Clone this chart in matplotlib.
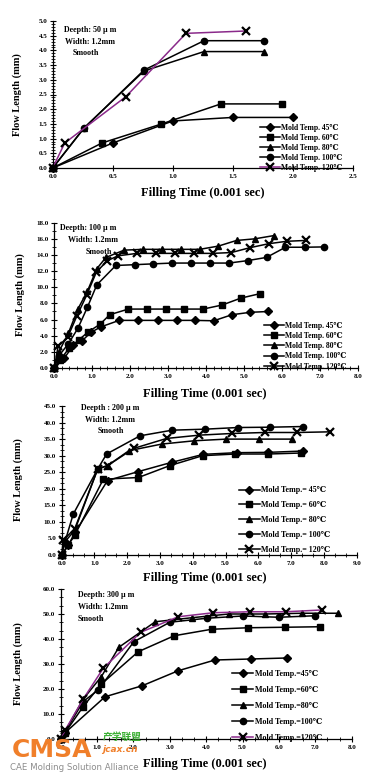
import matplotlib
matplotlib.use('Agg')
import matplotlib.pyplot as plt
from matplotlib.ticker import MultipleLocator, FormatStrFormatter

plt.rcParams['font.family'] = ['Liberation Serif', 'DejaVu Serif']
plt.rcParams['font.weight'] = 'bold'

W, H = 382, 778
PURPLE = '#8a2a8a'

# ---- panel 1 : 50 um ----
p1_x45 = [0, 0.5, 1.0, 1.5, 2.0]
p1_y45 = [0, 0.85, 1.6, 1.72, 1.72]
p1_x60 = [0, 0.41, 0.9, 1.4, 1.91]
p1_y60 = [0, 0.85, 1.49, 2.18, 2.18]
p1_x80 = [0, 0.26, 0.76, 1.26, 1.76]
p1_y80 = [0, 1.36, 3.3, 3.96, 3.96]
p1_x100 = [0, 0.26, 0.76, 1.26, 1.76]
p1_y100 = [0, 1.35, 3.33, 4.33, 4.33]
p1_x120 = [0, 0.1, 0.61, 1.11, 1.61]
p1_y120 = [0, 0.85, 2.43, 4.58, 4.66]

# ---- panel 2 : 100 um ----
p2_x45 = [0, 0.26, 0.5, 0.74, 0.96, 1.23, 1.71, 2.21, 2.72, 3.22, 3.7, 4.2, 4.68, 5.16, 5.64]
p2_y45 = [0, 1.2, 2.8, 3.4, 4.4, 5.1, 5.9, 5.9, 5.9, 5.9, 5.9, 5.85, 6.6, 6.9, 7.0]
p2_x60 = [0, 0.15, 0.4, 0.65, 0.9, 1.2, 1.46, 1.95, 2.43, 2.93, 3.42, 3.92, 4.42, 4.91, 5.41]
p2_y60 = [0, 1.0, 2.5, 3.5, 4.5, 5.4, 6.6, 7.3, 7.3, 7.3, 7.3, 7.3, 7.8, 8.65, 9.2]
p2_x80 = [0, 0.12, 0.37, 0.62, 0.87, 1.12, 1.36, 1.84, 2.34, 2.84, 3.33, 3.83, 4.32, 4.8, 5.28, 5.78]
p2_y80 = [0, 2.0, 4.3, 7.3, 9.5, 12.3, 13.7, 14.6, 14.7, 14.7, 14.7, 14.7, 15.1, 15.8, 16.0, 16.4]
p2_x100 = [0, 0.12, 0.37, 0.62, 0.87, 1.12, 1.62, 2.12, 2.6, 3.11, 3.61, 4.1, 4.6, 5.09, 5.59, 6.09, 6.6, 7.1]
p2_y100 = [0, 1.5, 3.0, 4.9, 7.5, 10.3, 12.7, 12.8, 12.9, 13.0, 13.0, 13.0, 13.0, 13.3, 13.7, 14.96, 14.96, 15.0]
p2_x120 = [0, 0.1, 0.35, 0.6, 0.85, 1.11, 1.4, 1.68, 2.18, 2.68, 3.18, 3.68, 4.17, 4.66, 5.15, 5.65, 6.13, 6.62]
p2_y120 = [0, 2.7, 3.8, 6.5, 9.0, 11.9, 13.3, 13.9, 14.2, 14.2, 14.2, 14.2, 14.2, 14.3, 14.9, 15.4, 15.7, 15.8]

# ---- panel 3 : 200 um ----
p3_x45 = [0, 0.2, 0.42, 1.4, 2.34, 3.36, 4.32, 5.34, 6.3, 7.35]
p3_y45 = [0, 3.0, 7.0, 22.5, 25.2, 28.0, 30.4, 30.9, 31.0, 31.4]
p3_x60 = [0, 0.2, 0.4, 1.27, 2.34, 3.3, 4.3, 5.3, 6.3, 7.3]
p3_y60 = [0, 3.0, 6.0, 22.9, 23.4, 27.0, 30.0, 30.5, 30.5, 30.8]
p3_x80 = [0, 0.1, 0.4, 1.1, 1.4, 2.05, 3.05, 4.05, 5.02, 6.02, 7.02]
p3_y80 = [0, 4.0, 7.5, 26.0, 27.0, 31.5, 33.5, 34.5, 35.0, 35.0, 35.0]
p3_x100 = [0, 0.1, 0.35, 1.1, 1.37, 2.39, 3.37, 4.37, 5.37, 6.36, 7.36]
p3_y100 = [0, 4.0, 12.3, 26.0, 30.5, 36.0, 37.7, 38.0, 38.5, 38.6, 38.8]
p3_x120 = [0, 0.05, 0.4, 1.1, 1.4, 2.2, 3.2, 4.2, 5.19, 6.19, 7.17, 8.19]
p3_y120 = [0, 4.5, 8.0, 26.0, 27.0, 32.2, 35.2, 36.2, 36.7, 37.0, 37.0, 37.2]

# ---- panel 4 : 300 um ----
p4_x45 = [0, 0.12, 1.22, 2.24, 3.23, 4.24, 5.22, 6.21]
p4_y45 = [0, 2.5, 16.9, 21.3, 27.3, 31.6, 32.0, 32.4]
p4_x60 = [0, 0.12, 0.62, 1.12, 2.13, 3.12, 4.15, 5.15, 6.16, 7.12]
p4_y60 = [0, 2.5, 13.0, 22.0, 34.9, 41.3, 43.9, 44.5, 44.7, 44.9]
p4_x80 = [0, 0.12, 0.62, 1.12, 1.6, 2.6, 3.6, 4.62, 5.61, 6.64, 7.61]
p4_y80 = [0, 3.0, 16.0, 25.0, 36.7, 46.9, 48.5, 50.0, 50.0, 50.3, 50.3]
p4_x100 = [0, 0.12, 0.62, 1.03, 2.01, 3.0, 4.01, 5.0, 6.0, 6.99]
p4_y100 = [0, 3.0, 15.0, 19.6, 38.9, 46.7, 48.3, 49.2, 48.7, 49.3]
p4_x120 = [0, 0.12, 0.62, 1.17, 2.2, 3.23, 4.19, 5.2, 6.19, 7.17]
p4_y120 = [0, 3.5, 16.0, 28.3, 42.7, 48.9, 50.5, 50.9, 50.9, 51.6]

temps = [45, 60, 80, 100, 120]
markers = ['D', 's', '^', 'o', 'x']

fig = plt.figure(figsize=(W / 100, H / 100), dpi=100)


def add_ax(left, top, right, bottom):
    return fig.add_axes([left / W, 1 - bottom / H, (right - left) / W, (bottom - top) / H])


def fx(px):
    return px / W


def fy(py):
    return 1 - py / H


def panel(ax, series, purple, xmax, xstep, xminor, ymax, ystep, yminor, sep, leg_anchor, leg_sp, leg_fs):
    for (xs, ys), t, m in zip(series, temps, markers):
        c = PURPLE if (purple and t == 120) else 'black'
        ms = {'D': 4, 'x': 5.5}.get(m, 4.5)
        ax.plot(xs, ys, color=c, lw=1.1, marker=m, ms=ms, mfc='black', mec='black',
                mew=1.6 if m == 'x' else 1.0, clip_on=False, label=f'Mold Temp.{sep}{t}℃')
    ax.set_xlim(0, xmax)
    ax.set_ylim(0, ymax)
    ax.xaxis.set_major_locator(MultipleLocator(xstep))
    ax.yaxis.set_major_locator(MultipleLocator(ystep))
    if xminor:
        ax.xaxis.set_minor_locator(MultipleLocator(xminor))
    ax.yaxis.set_minor_locator(MultipleLocator(yminor))
    ax.xaxis.set_major_formatter(FormatStrFormatter('%.1f'))
    ax.yaxis.set_major_formatter(FormatStrFormatter('%.1f'))
    for s in ['top', 'right']:
        ax.spines[s].set_visible(False)
    for s in ['left', 'bottom']:
        ax.spines[s].set_linewidth(0.9)
    ax.tick_params(which='major', direction='inout', length=4, width=0.8, labelsize=5, pad=2)
    ax.tick_params(which='minor', direction='inout', length=2.5, width=0.6)
    for lab in ax.get_xticklabels() + ax.get_yticklabels():
        lab.set_fontweight('bold')
    ax.legend(loc='upper left', bbox_to_anchor=leg_anchor, frameon=False, fontsize=leg_fs,
              handlelength=2.6, handletextpad=0.2, labelspacing=leg_sp, borderpad=0,
              borderaxespad=0)


ax1 = add_ax(52.7, 21, 353, 168)
panel(ax1, [(p1_x45, p1_y45), (p1_x60, p1_y60), (p1_x80, p1_y80), (p1_x100, p1_y100),
            (p1_x120, p1_y120)], True, 2.5, 0.5, None, 5.0, 0.5, 0.1, ' ', (0.69, 0.30), 0.25, 5.5)
ax2 = add_ax(54.3, 222.7, 358, 368)
panel(ax2, [(p2_x45, p2_y45), (p2_x60, p2_y60), (p2_x80, p2_y80), (p2_x100, p2_y100),
            (p2_x120, p2_y120)], False, 8.0, 1.0, 0.2, 18.0, 2.0, 1.0, ' ', (0.69, 0.32), 0.3, 5.5)
ax3 = add_ax(61.7, 406, 356.7, 555)
panel(ax3, [(p3_x45, p3_y45), (p3_x60, p3_y60), (p3_x80, p3_y80), (p3_x100, p3_y100),
            (p3_x120, p3_y120)], False, 9.0, 1.0, 1 / 3, 45.0, 5.0, 5 / 3, '= ', (0.6, 0.46), 0.85, 5.8)
ax4 = add_ax(60.7, 589, 351.7, 739)
panel(ax4, [(p4_x45, p4_y45), (p4_x60, p4_y60), (p4_x80, p4_y80), (p4_x100, p4_y100),
            (p4_x120, p4_y120)], True, 8.0, 1.0, 1 / 3, 60.0, 10.0, 10 / 3, '=', (0.59, 0.46), 1.0, 5.8)

# axis titles
for ylab_x, ylab_y in [(17, 95), (20, 295), (18, 480), (18, 664)]:
    fig.text(fx(ylab_x), fy(ylab_y), 'Flow Length (mm)', rotation=90, ha='center', va='center',
             fontsize=7.5, fontweight='bold')
for xlab_x, xlab_y in [(203, 193), (205, 394), (205, 578), (205, 764)]:
    fig.text(fx(xlab_x), fy(xlab_y), 'Filling Time (0.001 sec)', ha='center', va='center',
             fontsize=9, fontweight='bold')

# condition notes
notes = [
    [('Deepth: 50 μ m', 90, 30, 'center'), ('Width: 1.2mm', 90, 42, 'center'), ('Smooth', 86, 53, 'center')],
    [('Deepth: 100 μ m', 60, 228, 'left'), ('Width: 1.2mm', 68, 240, 'left'), ('Smooth', 86, 252, 'left')],
    [('Deepth : 200 μ m', 110, 408, 'center'), ('Width: 1.2mm', 110, 420, 'center'), ('Smooth', 111, 431, 'center')],
    [('Deepth: 300 μ m', 78, 595, 'left'), ('Width: 1.2mm', 78, 607, 'left'), ('Smooth', 78, 619, 'left')],
]
for group in notes:
    for txt, x, y, ha in group:
        fig.text(fx(x), fy(y), txt, ha=ha, va='center', fontsize=5.8, fontweight='bold')

# watermark
fig.text(fx(12), fy(750), 'CMSA', color='#f07f2a', fontsize=18, fontweight='bold',
         family=['DejaVu Sans'], va='center', ha='left')
fig.text(fx(103), fy(737), '产学联盟', color='#3cb034', fontsize=7, family=['Noto Sans CJK SC'],
         va='center', ha='left', fontweight='bold')
fig.text(fx(102), fy(749), 'jcax.cn', color='#f07f2a', fontsize=6.5, style='italic',
         family=['DejaVu Sans'], va='center', ha='left', fontweight='bold')
fig.text(fx(10), fy(767), 'CAE Molding Solution Alliance', color='#8c8c8c', fontsize=6.2,
         family=['DejaVu Sans'], fontweight='normal', va='center', ha='left')

fig.savefig('out.png', dpi=100)
